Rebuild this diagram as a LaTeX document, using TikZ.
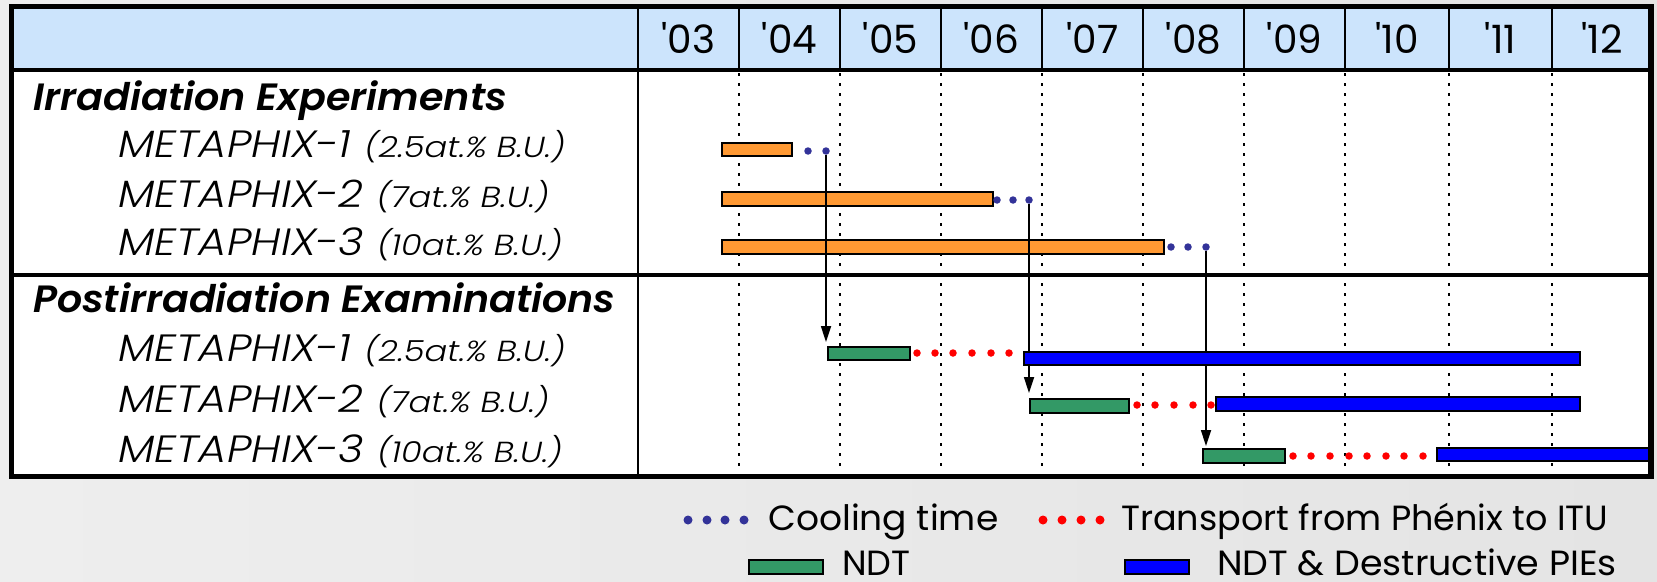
\documentclass[tikz,border=0pt]{standalone}
\usepackage{fontspec}
\setmainfont{Poppins}
\newfontfamily\sectfont{Poppins SemiBold Italic}
\newfontfamily\rowfont{Poppins Light Italic}
\usetikzlibrary{arrows.meta}
\definecolor{hdrblue}{HTML}{CCE4FC}
\definecolor{barorange}{HTML}{FF9933}
\definecolor{bargreen}{HTML}{339966}
\definecolor{barblue}{HTML}{0000FF}
\definecolor{cooldot}{HTML}{333399}
\definecolor{transdot}{HTML}{FF0000}
\definecolor{bgleft}{HTML}{EEEEEE}
\definecolor{bgmid}{HTML}{FCFCFC}
\definecolor{bgright}{HTML}{E4E4E4}
\newcommand{\hsc}[2]{\scalebox{#1}[1]{#2}}
\newcommand{\rowlabel}[2]{\hsc{1.14}{#1}\hspace{13pt}\hsc{1.16}{\fontsize{29}{32}\selectfont #2}}
\begin{document}
\begin{tikzpicture}[x=1pt,y=-1pt,
  barbox/.style={draw=black, line width=2pt, rectangle, inner sep=0pt, outer sep=0pt},
  obar/.style={barbox, fill=barorange},
  gbar/.style={barbox, fill=bargreen},
  bbar/.style={barbox, fill=barblue},
  cdot/.style={circle, fill=cooldot, inner sep=0pt, minimum size=7.5pt},
  tdot/.style={circle, fill=transdot, inner sep=0pt, minimum size=7.5pt},
  gridline/.style={line width=2pt, dash pattern=on 3pt off 7pt},
  arr/.style={line width=1.7pt, -{Triangle[length=16pt,width=10pt]}},
  secttext/.style={font=\fontsize{38}{44}\sectfont, inner sep=0pt, anchor=base west},
  rowtext/.style={font=\fontsize{38}{44}\rowfont, inner sep=0pt, anchor=base west},
  yeartext/.style={font=\fontsize{39}{44}\selectfont, inner sep=0pt, anchor=base},
  legtext/.style={font=\fontsize{35}{42}\selectfont, inner sep=0pt, anchor=base west},
]
\useasboundingbox (0,0) rectangle (1657,581);
% background
\fill[left color=bgleft, middle color=bgmid, right color=bgright] (0,0) rectangle (1657,581);
% table
\fill[white] (11,6) rectangle (1652,476);
\fill[hdrblue] (11,6) rectangle (1652,70);
\foreach \x in {739,840,941,1042,1143,1244,1345,1449,1552}
  \draw[gridline] (\x,73) -- (\x,470);
\foreach \x in {638,739,840,941,1042,1143,1244,1345,1449,1552}
  \draw[line width=2.5pt] (\x,6) -- (\x,70);
\draw[line width=2.5pt] (638,70) -- (638,476);
\draw[line width=4pt] (11,70) -- (1652,70);
\draw[line width=4pt] (11,275) -- (1652,275);
% years
\node[yeartext] (y03) at (688.5,53) {\textquotesingle03};
\node[yeartext] (y04) at (789.5,53) {\textquotesingle04};
\node[yeartext] (y05) at (890.5,53) {\textquotesingle05};
\node[yeartext] (y06) at (991.5,53) {\textquotesingle06};
\node[yeartext] (y07) at (1092.5,53) {\textquotesingle07};
\node[yeartext] (y08) at (1193.5,53) {\textquotesingle08};
\node[yeartext] (y09) at (1294.5,53) {\textquotesingle09};
\node[yeartext] (y10) at (1397,53) {\textquotesingle10};
\node[yeartext] (y11) at (1500.5,53) {\textquotesingle11};
\node[yeartext] (y12) at (1602,53) {\textquotesingle12};
% left labels
\node[secttext] (hirr) at (33,110) {\hsc{1.045}{Irradiation Experiments}};
\node[rowtext] (lirr1) at (118,157) {\rowlabel{METAPHIX-1}{(2.5at.\% B.U.)}};
\node[rowtext] (lirr2) at (118,207) {\rowlabel{METAPHIX-2}{(7at.\% B.U.)}};
\node[rowtext] (lirr3) at (118,255) {\rowlabel{METAPHIX-3}{(10at.\% B.U.)}};
\node[secttext] (hpie) at (33,312) {\hsc{1.04}{Postirradiation Examinations}};
\node[rowtext] (lpie1) at (118,361) {\rowlabel{METAPHIX-1}{(2.5at.\% B.U.)}};
\node[rowtext] (lpie2) at (118,412) {\rowlabel{METAPHIX-2}{(7at.\% B.U.)}};
\node[rowtext] (lpie3) at (118,462) {\rowlabel{METAPHIX-3}{(10at.\% B.U.)}};
% irradiation bars
\node[obar, minimum width=70pt, minimum height=13pt] (i1) at (757,149.5) {};
\node[obar, minimum width=271pt, minimum height=14pt] (i2) at (857.5,199) {};
\node[obar, minimum width=442pt, minimum height=14pt] (i3) at (943,247) {};
% cooling dots
\node[cdot] (c1a) at (808,151) {};
\node[cdot] (c1b) at (826,151) {};
\node[cdot] (c2a) at (997,200) {};
\node[cdot] (c2b) at (1013,200) {};
\node[cdot] (c2c) at (1029,200) {};
\node[cdot] (c3a) at (1171,247) {};
\node[cdot] (c3b) at (1188,247) {};
\node[cdot] (c3c) at (1206,247) {};
% NDT bars
\node[gbar, minimum width=82pt, minimum height=13pt] (g1) at (869,353.5) {};
\node[gbar, minimum width=99pt, minimum height=14pt] (g2) at (1079.5,406) {};
\node[gbar, minimum width=82pt, minimum height=14pt] (g3) at (1244,456) {};
% arrows
\draw[arr, shorten >=5pt] (c1b.south) -- (c1b.south |- g1.north);
\draw[arr, shorten >=6pt] (c2c.south) -- (c2c.south |- g2.north);
\draw[arr, shorten >=3pt] (c3c.south) -- (c3c.south |- g3.north);
% transport dots
\foreach \x [count=\i] in {917,935,953,972,991,1009}
  \node[tdot] (t1\i) at (\x,353) {};
\foreach \x [count=\i] in {1137,1155,1174,1193,1211}
  \node[tdot] (t2\i) at (\x,405) {};
\foreach \x [count=\i] in {1293,1311,1330,1349,1367,1386,1404,1423}
  \node[tdot] (t3\i) at (\x,456) {};
% destructive bars
\node[bbar, minimum width=556pt, minimum height=13pt] (b1) at (1302,358.5) {};
\node[bbar, minimum width=364pt, minimum height=14pt] (b2) at (1398,404) {};
\node[bbar, minimum width=214pt, minimum height=13pt] (b3) at (1544,454.5) {};
% frame
\draw[line width=5.5pt] (11.5,6.5) rectangle (1651,476.5);
% legend
\foreach \x [count=\i] in {688,707,725,744}
  \node[cdot, minimum size=9pt] (lc\i) at (\x,520) {};
\node[legtext] (lcool) at (768,530) {\hsc{1.03}{Cooling time}};
\foreach \x [count=\i] in {1043,1062,1081,1100}
  \node[tdot, minimum size=9pt] (lt\i) at (\x,520) {};
\node[legtext] (ltrans) at (1121,530) {Transport from Phénix to ITU};
\node[gbar, minimum width=74pt, minimum height=14pt] (lg) at (786,567) {};
\node[legtext] (lndt) at (842,575) {NDT};
\node[bbar, minimum width=64pt, minimum height=14pt] (lb) at (1157,567) {};
\node[legtext] (lpies) at (1217,575) {\hsc{1.04}{NDT \& Destructive PIEs}};
\end{tikzpicture}
\end{document}
